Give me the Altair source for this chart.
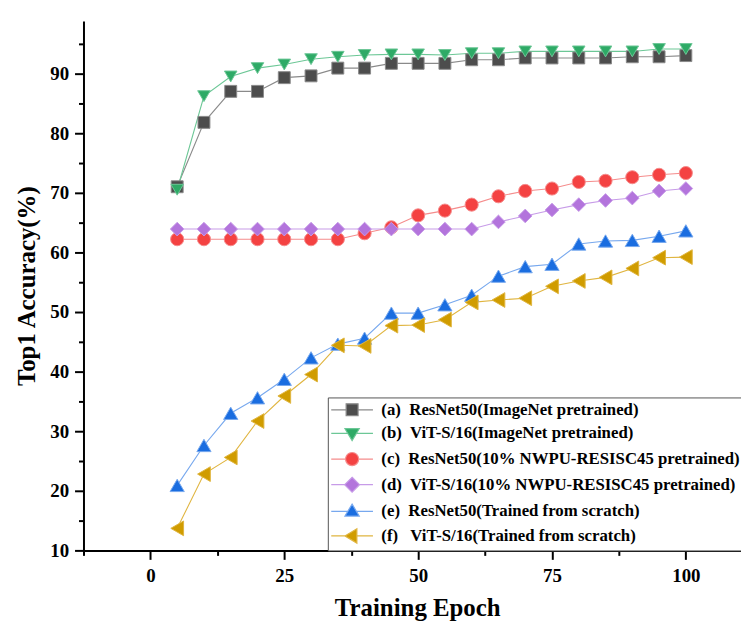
import altair as alt
import pandas as pd

epochs = list(range(5, 101, 5))
series_keys = ["a", "b", "c", "d", "e", "f"]
series_labels = [
    "(a)\u00a0 ResNet50(ImageNet pretrained)",
    "(b)\u00a0 ViT-S/16(ImageNet pretrained)",
    "(c)\u00a0 ResNet50(10% NWPU-RESISC45 pretrained)",
    "(d)\u00a0 ViT-S/16(10% NWPU-RESISC45 pretrained)",
    "(e)\u00a0 ResNet50(Trained from scratch)",
    "(f)\u00a0\u00a0 ViT-S/16(Trained from scratch)",
]
acc_a = [71.0, 81.8, 87.0, 87.0, 89.3, 89.6, 90.9, 90.9, 91.7, 91.7,
         91.7, 92.3, 92.3, 92.6, 92.6, 92.6, 92.6, 92.8, 92.8, 93.0]
acc_b = [70.5, 86.2, 89.5, 90.9, 91.5, 92.4, 92.8, 93.1, 93.2, 93.2,
         93.1, 93.4, 93.4, 93.7, 93.7, 93.7, 93.7, 93.7, 94.1, 94.1]
acc_c = [62.2, 62.2, 62.2, 62.2, 62.2, 62.2, 62.2, 63.2, 64.2, 66.2,
         67.0, 68.0, 69.4, 70.3, 70.7, 71.8, 72.0, 72.6, 73.0, 73.3]
acc_d = [63.9, 63.9, 63.9, 63.9, 63.9, 63.9, 63.9, 63.9, 63.9, 63.9,
         63.9, 63.9, 65.1, 66.1, 67.1, 68.0, 68.7, 69.1, 70.3, 70.7]
acc_e = [20.9, 27.6, 33.0, 35.6, 38.7, 42.3, 44.6, 45.6, 49.8, 49.8,
         51.2, 52.8, 56.0, 57.6, 58.0, 61.4, 61.9, 62.0, 62.7, 63.6]
acc_f = [13.7, 22.8, 25.6, 31.7, 35.9, 39.5, 44.4, 44.3, 47.7, 47.8,
         48.7, 51.6, 52.0, 52.3, 54.3, 55.2, 55.8, 57.3, 59.1, 59.2]
all_acc = [acc_a, acc_b, acc_c, acc_d, acc_e, acc_f]

x_ticks = [-12.5, 0, 12.5, 25, 37.5, 50, 62.5, 75, 87.5, 100]
y_ticks = [10, 15, 20, 25, 30, 35, 40, 45, 50, 55, 60, 65, 70, 75, 80, 85, 90, 95]

marker_colors = ["#4d4d4d", "#2eaa66", "#f44242", "#b374dc", "#1a6de0", "#d09c00"]
line_colors = ["#8a8a8a", "#6cc796", "#f58c8c", "#c79be8", "#77a8ee", "#e0b540"]
marker_shapes = ["square", "triangle-down", "circle", "diamond", "triangle-up", "triangle-left"]
marker_sizes = [144, 220, 196, 256, 225, 225]
legend_paths = [
    "M-3.5,0H-1M1,0H3.5M-1,-1H1V1H-1Z",
    "M-3.5,0H-0.72M0.72,0H3.5M-1.2,-0.8L1.2,-0.8L0,1.2Z",
    "M-3.5,0H-1.1M1.1,0H3.5M-1.1,0A1.1,1.1,0,1,1,1.1,0A1.1,1.1,0,1,1,-1.1,0Z",
    "M-3.5,0H-1.25M1.25,0H3.5M0,-1.25L1.25,0L0,1.25L-1.25,0Z",
    "M-3.5,0H-0.72M0.72,0H3.5M0,-1.2L1.2,0.8L-1.2,0.8Z",
    "M-3.5,0H-1.2M0.8,0H3.5M-1.2,0L0.8,-1.2L0.8,1.2Z",
]

rows = []
for key, vals in zip(series_keys, all_acc):
    for ep, v in zip(epochs, vals):
        rows.append({"epoch": ep, "acc": v, "key": key})
df = pd.DataFrame(rows)
ghost = pd.DataFrame({"epoch": [epochs[0]] * 6, "acc": [v[0] for v in all_acc], "key": series_labels})

FONT = "Liberation Serif"
full_domain = series_keys + series_labels

x_enc = alt.X(
    "epoch:Q",
    scale=alt.Scale(domain=[-12.5, 110.3], nice=False, zero=False),
    axis=alt.Axis(
        values=x_ticks,
        labelExpr="datum.value % 25 === 0 ? datum.label : ''",
        tickSize={"condition": {"test": "datum.value % 25 === 0", "value": 9}, "value": 5},
        title="Training Epoch",
        titleX=336,
        labelOverlap=False,
        labelFlush=False,
        labelPadding=7,
        titlePadding=11,
    ),
)
y_enc = alt.Y(
    "acc:Q",
    scale=alt.Scale(domain=[10, 98.8], nice=False, zero=False),
    axis=alt.Axis(
        values=y_ticks,
        labelExpr="datum.value % 10 === 0 ? datum.label : ''",
        tickSize={"condition": {"test": "datum.value % 10 === 0", "value": 9}, "value": 5},
        title="Top1 Accuracy(%)",
        labelOverlap=False,
        labelFlush=False,
        labelPadding=6,
        titlePadding=10,
    ),
)

fill_scale = alt.Scale(domain=full_domain, range=marker_colors + marker_colors)
stroke_scale = alt.Scale(domain=full_domain, range=line_colors + line_colors)
shape_scale = alt.Scale(domain=full_domain, range=marker_shapes + legend_paths)

leg = alt.Legend(
    title=None,
    values=series_labels,
    orient="none",
    legendX=246,
    legendY=379,
    padding=4,
    strokeColor="#555555",
    fillColor="white",
    symbolSize=144,
    symbolStrokeWidth=1.2,
    symbolOpacity=1,
    symbolOffset=12,
    labelOffset=21,
    labelFont=FONT,
    labelFontSize=16.9,
    labelFontWeight="bold",
    labelColor="black",
    labelLimit=0,
    rowPadding=5.8,
)

lines = alt.Chart(df).mark_line(strokeWidth=1.1).encode(
    x=x_enc,
    y=y_enc,
    color=alt.Color("key:N", scale=alt.Scale(domain=series_keys, range=line_colors), legend=None),
    order="epoch:Q",
)

points = alt.Chart(df).mark_point(filled=True, strokeWidth=1, opacity=1).encode(
    x=x_enc,
    y=y_enc,
    fill=alt.Fill("key:N", scale=fill_scale, legend=leg),
    stroke=alt.Stroke("key:N", scale=stroke_scale, legend=leg),
    shape=alt.Shape("key:N", scale=shape_scale, legend=leg),
    size=alt.Size("key:O", scale=alt.Scale(domain=series_keys, range=marker_sizes), legend=None),
)

ghost_layer = alt.Chart(ghost).mark_point(filled=True, opacity=0, strokeWidth=1.2).encode(
    x=x_enc,
    y=y_enc,
    fill=alt.Fill("key:N", scale=fill_scale, legend=leg),
    stroke=alt.Stroke("key:N", scale=stroke_scale, legend=leg),
    shape=alt.Shape("key:N", scale=shape_scale, legend=leg),
)

chart = alt.layer(lines, points, ghost_layer).properties(
    width=662,
    height=533,
    autosize=alt.AutoSizeParams(type="none"),
    padding={"left": 76, "top": 11, "right": 0, "bottom": 73},
).configure_view(stroke=None).configure_axis(
    grid=False,
    domainColor="black",
    domainWidth=2,
    tickColor="black",
    tickWidth=2,
    labelFont=FONT,
    labelFontSize=19,
    labelFontWeight="bold",
    labelColor="black",
    titleFont=FONT,
    titleFontSize=25,
    titleFontWeight="bold",
    titleColor="black",
)

chart.save("out.html", embed_options={"renderer": "svg", "actions": False})
